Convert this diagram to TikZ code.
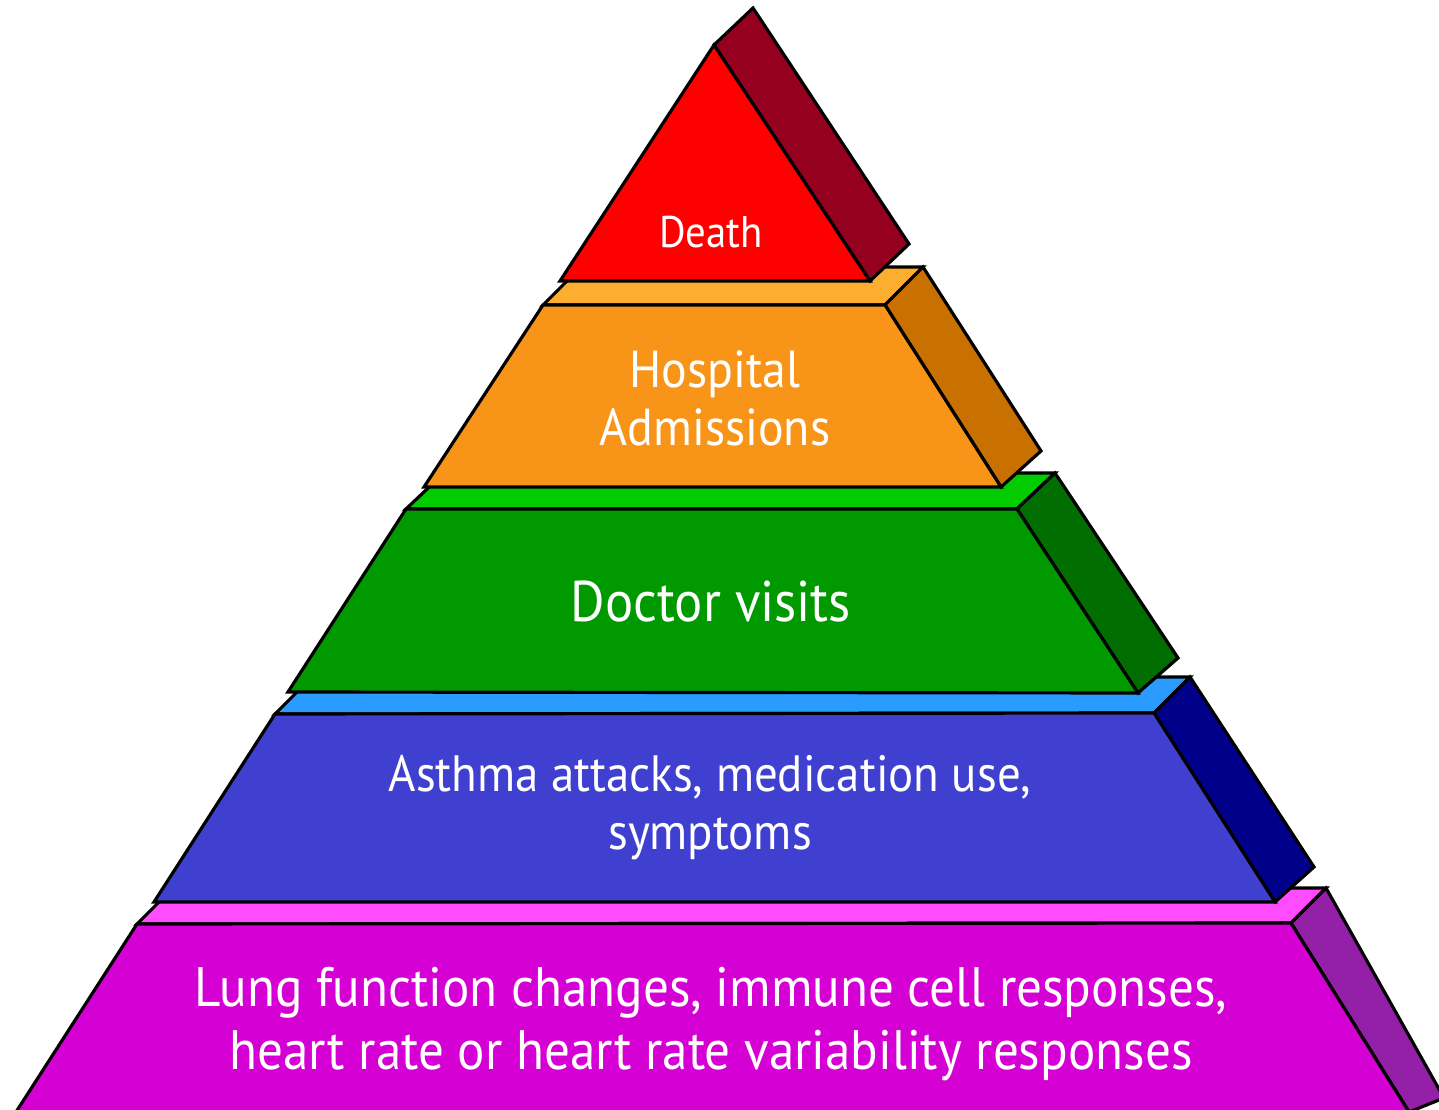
\documentclass[tikz,border=0pt]{standalone}
\usepackage{fontspec}
\setmainfont[FakeStretch=0.92]{PT Sans}
\definecolor{redfront}{HTML}{FF0000}
\definecolor{redside}{HTML}{96001F}
\definecolor{orangefront}{HTML}{F89418}
\definecolor{orangetop}{HTML}{FDAD2F}
\definecolor{orangeside}{HTML}{C87000}
\definecolor{greenfront}{HTML}{009A00}
\definecolor{greentop}{HTML}{00CC00}
\definecolor{greenside}{HTML}{006E00}
\definecolor{bluefront}{HTML}{4040D0}
\definecolor{bluetop}{HTML}{2A9BFF}
\definecolor{blueside}{HTML}{00008B}
\definecolor{pinkfront}{HTML}{D400D4}
\definecolor{pinktop}{HTML}{FF4CFF}
\definecolor{pinkside}{HTML}{9520A8}
\begin{document}
\begin{tikzpicture}[x=0.01cm, y=-0.01cm, line width=0.9pt,
  face/.style={fill=#1, draw=black},
  every node/.style={text=white, align=center, anchor=base}]
  \useasboundingbox (0,0) rectangle (1439,1110);
  \clip (0,0) rectangle (1439,1110);
  % lung function
  \draw[face=pinktop] (137,924) -- (1291,923) -- ++(35,-35) -- (172,889) -- cycle;
  \draw[face=pinkside] (1291,923) -- (1326,888) -- (1444,1098) -- (1409,1112) -- cycle;
  \draw[face=pinkfront] (137,924) -- (1291,923) -- (1409,1112) -- (16,1112) -- cycle;
  % asthma
  \draw[face=bluetop] (275,714) -- (1154,713) -- (1190,677) -- (311,678) -- cycle;
  \draw[face=blueside] (1154,713) -- (1190,677) -- (1314,867) -- (1275,902) -- cycle;
  \draw[face=bluefront] (275,714) -- (1154,713) -- (1275,902) -- (154,902) -- cycle;
  % doctor
  \draw[face=greentop] (406,509) -- (1017,509) -- (1055,473) -- (444,473) -- cycle;
  \draw[face=greenside] (1017,509) -- (1055,473) -- (1178,658) -- (1138,693) -- cycle;
  \draw[face=greenfront] (406,509) -- (1017,509) -- (1138,693) -- (288,692) -- cycle;
  % hospital
  \draw[face=orangetop] (543,305) -- (885,305) -- (923,267) -- (581,267) -- cycle;
  \draw[face=orangeside] (885,305) -- (923,267) -- (1041,451) -- (1001,487) -- cycle;
  \draw[face=orangefront] (543,305) -- (885,305) -- (1001,487) -- (424,487) -- cycle;
  % death
  \draw[face=redside] (714,45) -- (753,8) -- (909,244) -- (870,281) -- cycle;
  \draw[face=redfront] (714,45) -- (870,281) -- (560,281) -- cycle;
  % labels
  \node[font=\fontsize{12.6}{14}\selectfont] (death) at (711,248) {Death};
  \node[font=\fontsize{14.8}{16.5}\selectfont] (hospital) at (715,446) {Hospital\\Admissions};
  \node[font=\fontsize{16.3}{18}\selectfont] (doctor) at (711,622) {Doctor visits};
  \node[font=\fontsize{14.5}{16.5}\selectfont] (asthma) at (710,850) {Asthma attacks, medication use,\\symptoms};
  \node[font=\fontsize{15.8}{17.9}\selectfont] (lung) at (711,1069) {Lung function changes, immune cell responses,\\heart rate or heart rate variability responses};
\end{tikzpicture}
\end{document}
